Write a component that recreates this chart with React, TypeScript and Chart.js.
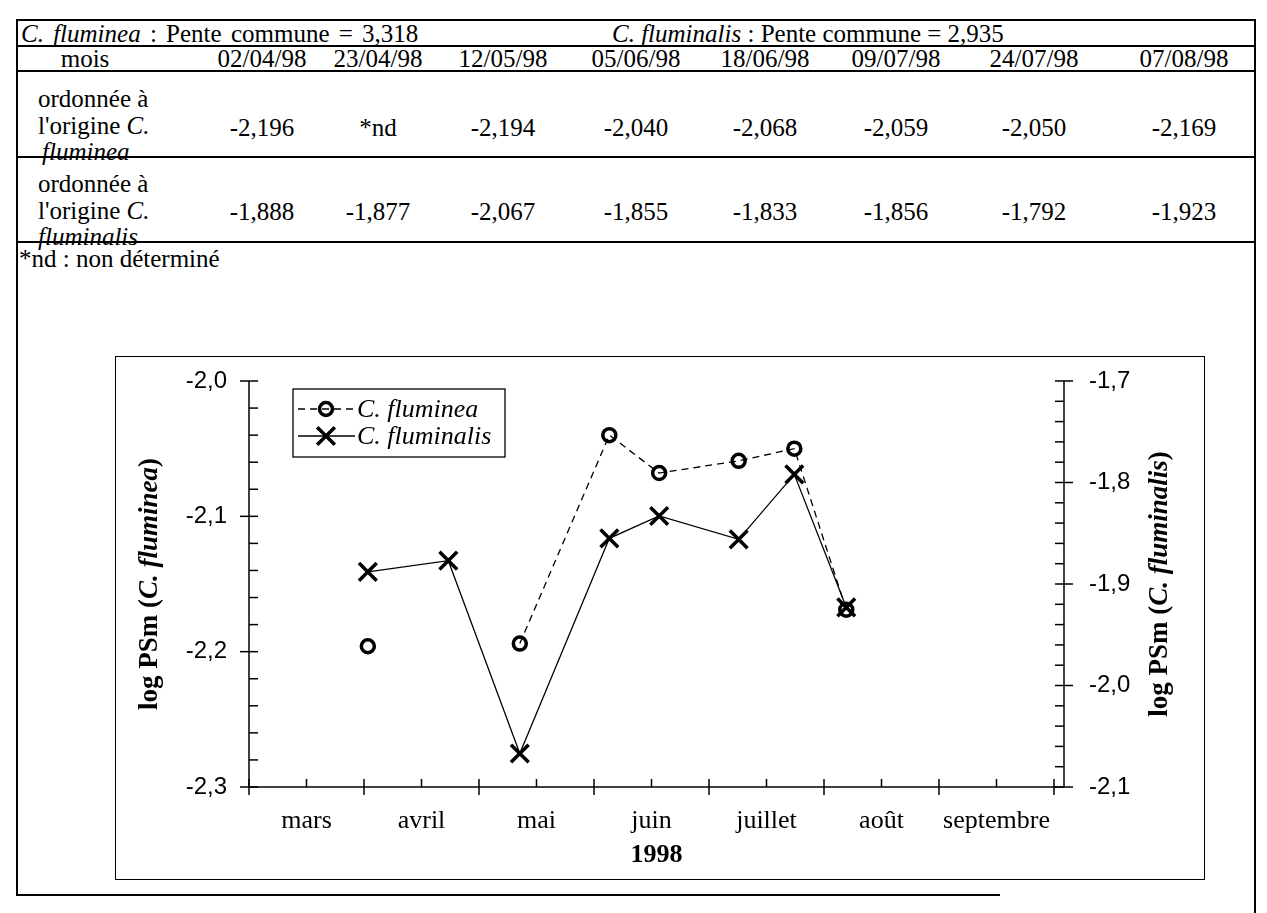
import React, { useEffect, useRef } from "react";
import { Chart, registerables } from "chart.js";

Chart.register(...registerables);

// ---------------- data ----------------
const sampleDates = ["02/04/98", "23/04/98", "12/05/98", "05/06/98", "18/06/98", "09/07/98", "24/07/98", "07/08/98"];
const flumineaIntercepts: (number | null)[] = [-2.196, null, -2.194, -2.04, -2.068, -2.059, -2.05, -2.169];
const fluminalisIntercepts: number[] = [-1.888, -1.877, -2.067, -1.855, -1.833, -1.856, -1.792, -1.923];
const monthLabels = ["mars", "avril", "mai", "juin", "juillet", "août", "septembre"];
const leftAxisTicks = [-2.3, -2.2, -2.1, -2.0];
const rightAxisTicks = [-2.1, -2.0, -1.9, -1.8, -1.7];
const flumineaSlope = "3,318";
const fluminalisSlope = "2,935";
const yearLabel = "1998";

// ---------------- helpers ----------------
const DAYS_IN_MONTH = [31, 28, 31, 30, 31, 30, 31, 31, 30, 31, 30, 31];
// x position in months since 1 March
function dateToX(d: string): number {
  const [dd, mm] = d.split("/").map(Number);
  return mm - 3 + (dd - 1) / DAYS_IN_MONTH[mm - 1];
}
const fmt3 = (v: number | null) => (v === null ? "*nd" : v.toFixed(3).replace(".", ","));
const fmt1 = (v: number) => v.toFixed(1).replace(".", ",");

const SERIF = '"Liberation Serif", "Times New Roman", serif';
const SANS = '"Liberation Sans", Arial, sans-serif';

// ---------------- chart geometry (page px) ----------------
const FRAME_LEFT = 115;
const FRAME_TOP = 356;
const FRAME_RIGHT = 1205;
const FRAME_BOTTOM = 880;
const CANVAS_LEFT = FRAME_LEFT + 1;
const CANVAS_TOP = FRAME_TOP + 1;
const CANVAS_W = FRAME_RIGHT - FRAME_LEFT - 2;
const CANVAS_H = FRAME_BOTTOM - FRAME_TOP - 2;
const PLOT_LEFT = 249;
const PLOT_RIGHT = 1064;
const PLOT_TOP = 381;
const PLOT_BOTTOM = 787;
const OCT1_PX = 1054;

type Part = { text: string; font: string };
function drawRich(ctx: CanvasRenderingContext2D, parts: Part[], cx: number, cy: number) {
  let total = 0;
  const widths = parts.map((p) => {
    ctx.font = p.font;
    const w = ctx.measureText(p.text).width;
    total += w;
    return w;
  });
  let x = cx - total / 2;
  ctx.textBaseline = "middle";
  ctx.textAlign = "left";
  parts.forEach((p, i) => {
    ctx.font = p.font;
    ctx.fillText(p.text, x, cy);
    x += widths[i];
  });
}

function drawMarker(ctx: CanvasRenderingContext2D, style: string, r: number, x: number, y: number) {
  ctx.beginPath();
  if (style === "circle") {
    ctx.arc(x, y, r, 0, Math.PI * 2);
  } else {
    const o = r * Math.SQRT1_2;
    ctx.moveTo(x - o, y - o);
    ctx.lineTo(x + o, y + o);
    ctx.moveTo(x + o, y - o);
    ctx.lineTo(x - o, y + o);
  }
  ctx.stroke();
}

const decorPlugin = {
  id: "decor",
  afterDatasetsDraw(chart: any) {
    const ctx: CanvasRenderingContext2D = chart.ctx;
    const { left, right, top, bottom } = chart.chartArea;
    const xs = chart.scales.x;
    const yl = chart.scales.yLeft;
    const yr = chart.scales.yRight;
    ctx.save();
    ctx.strokeStyle = "#000";
    ctx.fillStyle = "#000";
    ctx.lineWidth = 1.5;
    const line = (x1: number, y1: number, x2: number, y2: number) => {
      ctx.beginPath();
      ctx.moveTo(x1, y1);
      ctx.lineTo(x2, y2);
      ctx.stroke();
    };
    // axis lines
    line(left, top, left, bottom);
    line(right, top, right, bottom);
    line(left, bottom, right, bottom);
    // y ticks (minor every 0.02, major every 0.1)
    const minorStep = 0.02;
    const nL = Math.round((yl.max - yl.min) / minorStep);
    for (let i = 0; i <= nL; i++) {
      const py = yl.getPixelForValue(yl.min + i * minorStep);
      const major = i % 5 === 0;
      line(major ? left - 9 : left, py, left + 9, py);
    }
    const nR = Math.round((yr.max - yr.min) / minorStep);
    for (let i = 0; i <= nR; i++) {
      const py = yr.getPixelForValue(yr.min + i * minorStep);
      const major = i % 5 === 0;
      line(right - 9, py, major ? right + 9 : right, py);
    }
    // x ticks: half months
    for (let i = 0; i <= monthLabels.length * 2; i++) {
      const px = xs.getPixelForValue(i * 0.5);
      const major = i % 2 === 0;
      line(px, bottom - 8, px, major ? bottom + 8 : bottom);
    }

    // axis titles (mixed bold / bold italic)
    ctx.fillStyle = "#000";
    const bold = `bold 27px ${SERIF}`;
    const boldIt = `italic bold 27px ${SERIF}`;
    const midY = (top + bottom) / 2;
    ctx.save();
    ctx.translate(150 - CANVAS_LEFT, midY);
    ctx.rotate(-Math.PI / 2);
    drawRich(ctx, [
      { text: "log PSm (", font: bold },
      { text: "C. fluminea", font: boldIt },
      { text: ")", font: bold },
    ], 0, 0);
    ctx.restore();
    ctx.save();
    ctx.translate(1160 - CANVAS_LEFT, midY);
    ctx.rotate(-Math.PI / 2);
    drawRich(ctx, [
      { text: "log PSm (", font: bold },
      { text: "C. fluminalis", font: boldIt },
      { text: ")", font: bold },
    ], 0, 0);
    ctx.restore();

    // legend box
    const bx = left + 44;
    const by = top + 8;
    const bw = 212;
    const bh = 68;
    ctx.fillStyle = "#fff";
    ctx.fillRect(bx, by, bw, bh);
    ctx.lineWidth = 1.3;
    ctx.strokeStyle = "#000";
    ctx.strokeRect(bx, by, bw, bh);
    const rows = [by + 20, by + 47];
    chart.data.datasets.forEach((ds: any, i: number) => {
      const ry = rows[i];
      ctx.save();
      ctx.lineWidth = ds.borderWidth;
      ctx.setLineDash(ds.borderDash || []);
      line(bx + 5, ry, bx + 62, ry);
      ctx.restore();
      ctx.save();
      ctx.lineWidth = ds.pointBorderWidth;
      ctx.strokeStyle = "#000";
      drawMarker(ctx, ds.pointStyle, ds.pointRadius, bx + 33, ry);
      ctx.restore();
      ctx.fillStyle = "#000";
      ctx.font = `italic 26px ${SERIF}`;
      ctx.textAlign = "left";
      ctx.textBaseline = "middle";
      ctx.fillText(ds.label, bx + 64, ry + 1);
    });
    ctx.restore();
  },
};

function ChartBlock() {
  const ref = useRef<HTMLCanvasElement>(null);
  useEffect(() => {
    const canvas = ref.current!;
    const xVals = sampleDates.map(dateToX);
    const chart = new Chart(canvas, {
      type: "line",
      data: {
        datasets: [
          {
            label: "C. fluminea",
            data: xVals.map((x, i) => ({ x, y: flumineaIntercepts[i] })) as any,
            yAxisID: "yLeft",
            borderColor: "#000",
            borderWidth: 1.3,
            borderDash: [7, 5],
            pointStyle: "circle",
            pointRadius: 6.5,
            pointBorderWidth: 3.5,
            pointBackgroundColor: "rgba(0,0,0,0)",
            pointBorderColor: "#000",
            spanGaps: false,
            fill: false,
            tension: 0,
          },
          {
            label: "C. fluminalis",
            data: xVals.map((x, i) => ({ x, y: fluminalisIntercepts[i] })) as any,
            yAxisID: "yRight",
            borderColor: "#000",
            borderWidth: 1.3,
            pointStyle: "crossRot",
            pointRadius: 12.5,
            pointBorderWidth: 3.5,
            pointBackgroundColor: "rgba(0,0,0,0)",
            pointBorderColor: "#000",
            fill: false,
            tension: 0,
          },
        ],
      },
      options: {
        animation: false,
        responsive: false,
        layout: { padding: { top: PLOT_TOP - CANVAS_TOP, left: 0, right: 0, bottom: 0 } },
        plugins: { legend: { display: false }, tooltip: { enabled: false } },
        scales: {
          x: {
            type: "linear",
            position: "bottom",
            min: 0,
            max: (7 * (PLOT_RIGHT - PLOT_LEFT)) / (OCT1_PX - PLOT_LEFT),
            afterBuildTicks: (s: any) => {
              s.ticks = monthLabels.map((_, i) => ({ value: i + 0.5 }));
            },
            ticks: {
              autoSkip: false,
              maxRotation: 0,
              padding: 19,
              color: "#000",
              font: { family: SERIF, size: 26 },
              callback: (v: any) => monthLabels[Math.floor(Number(v))] ?? "",
            },
            grid: { display: false, drawTicks: false },
            border: { display: false },
            title: {
              display: true,
              text: yearLabel,
              color: "#000",
              font: { family: SERIF, size: 26, weight: "bold" },
              padding: { top: 0, bottom: 8 },
            },
            afterFit: (s: any) => {
              s.height = CANVAS_TOP + CANVAS_H - PLOT_BOTTOM;
              s.paddingLeft = 0;
              s.paddingRight = 0;
            },
          } as any,
          yLeft: {
            type: "linear",
            position: "left",
            min: -2.3,
            max: -2.0,
            afterBuildTicks: (s: any) => {
              s.ticks = leftAxisTicks.map((v) => ({ value: v }));
            },
            ticks: {
              padding: 22,
              color: "#000",
              font: { family: SANS, size: 24 },
              callback: (v: any) => fmt1(Number(v)),
            },
            grid: { display: false, drawTicks: false },
            border: { display: false },
            afterFit: (s: any) => {
              s.width = PLOT_LEFT - CANVAS_LEFT;
              s.paddingTop = 0;
              s.paddingBottom = 0;
            },
          } as any,
          yRight: {
            type: "linear",
            position: "right",
            min: -2.1,
            max: -1.7,
            afterBuildTicks: (s: any) => {
              s.ticks = rightAxisTicks.map((v) => ({ value: v }));
            },
            ticks: {
              padding: 25,
              color: "#000",
              font: { family: SANS, size: 24 },
              callback: (v: any) => fmt1(Number(v)),
            },
            grid: { display: false, drawTicks: false },
            border: { display: false },
            afterFit: (s: any) => {
              s.width = CANVAS_LEFT + CANVAS_W - PLOT_RIGHT;
              s.paddingTop = 0;
              s.paddingBottom = 0;
            },
          } as any,
        },
      },
      plugins: [decorPlugin as any],
    });
    return () => chart.destroy();
  }, []);
  return (
    <canvas
      ref={ref}
      width={CANVAS_W}
      height={CANVAS_H}
      style={{ position: "absolute", left: CANVAS_LEFT, top: CANVAS_TOP, width: CANVAS_W, height: CANVAS_H }}
    />
  );
}

// ---------------- page pieces ----------------
const FS = 25;

function HLine({ x1, x2, y, w = 2 }: { x1: number; x2: number; y: number; w?: number }) {
  return <div style={{ position: "absolute", left: x1, top: y - w / 2, width: x2 - x1, height: w, background: "#000" }} />;
}
function VLine({ x, y1, y2, w = 2 }: { x: number; y1: number; y2: number; w?: number }) {
  return <div style={{ position: "absolute", left: x - w / 2, top: y1, width: w, height: y2 - y1, background: "#000" }} />;
}
function T({ x, y, children, center = false, italic = false, wordSpacing = 0 }: { x: number; y: number; children: React.ReactNode; center?: boolean; italic?: boolean; wordSpacing?: number }) {
  return (
    <div
      style={{
        position: "absolute",
        left: x,
        top: y,
        transform: center ? "translate(-50%, -50%)" : "translate(0, -50%)",
        whiteSpace: "pre",
        lineHeight: 1,
        fontSize: FS,
        fontStyle: italic ? "italic" : "normal",
        wordSpacing,
      }}
    >
      {children}
    </div>
  );
}

const colCenters = [262, 378, 503, 636, 765, 896, 1034, 1184];

export default function App() {
  return (
    <div
      style={{
        position: "absolute",
        left: 0,
        top: 0,
        width: 1267,
        height: 913,
        background: "#fff",
        color: "#000",
        fontFamily: SERIF,
        overflow: "hidden",
      }}
    >
      {/* table frame */}
      <HLine x1={17} x2={1256} y={20} />
      <HLine x1={17} x2={1256} y={46} />
      <HLine x1={17} x2={1256} y={71} />
      <HLine x1={17} x2={1256} y={157} />
      <HLine x1={17} x2={1256} y={242} />
      <HLine x1={17} x2={1000} y={895} />
      <VLine x={17} y1={19} y2={896} />
      <VLine x={1255} y1={19} y2={913} />

      {/* title row */}
      <T x={21} y={33} wordSpacing={3}>
        <i>C. fluminea</i> : Pente commune = {flumineaSlope}
      </T>
      <T x={612} y={33}>
        <i>C. fluminalis</i> : Pente commune = {fluminalisSlope}
      </T>

      {/* header row */}
      <T x={85} y={58} center>mois</T>
      {sampleDates.map((d, i) => (
        <T key={d} x={colCenters[i]} y={58} center>{d}</T>
      ))}

      {/* C. fluminea row */}
      <T x={38} y={98}>ordonnée à</T>
      <T x={38} y={125}>l'origine <i>C.</i></T>
      <T x={42} y={151} italic>fluminea</T>
      {flumineaIntercepts.map((v, i) => (
        <T key={"a" + i} x={colCenters[i]} y={127} center>{fmt3(v)}</T>
      ))}

      {/* C. fluminalis row */}
      <T x={38} y={183}>ordonnée à</T>
      <T x={38} y={210}>l'origine <i>C.</i></T>
      <T x={38} y={236} italic>fluminalis</T>
      {fluminalisIntercepts.map((v, i) => (
        <T key={"b" + i} x={colCenters[i]} y={211} center>{fmt3(v)}</T>
      ))}

      <T x={19} y={258}>*nd : non déterminé</T>

      {/* chart frame */}
      <div
        style={{
          position: "absolute",
          left: FRAME_LEFT,
          top: FRAME_TOP,
          width: FRAME_RIGHT - FRAME_LEFT,
          height: FRAME_BOTTOM - FRAME_TOP,
          border: "1.5px solid #000",
          boxSizing: "border-box",
        }}
      />
      <ChartBlock />
    </div>
  );
}
